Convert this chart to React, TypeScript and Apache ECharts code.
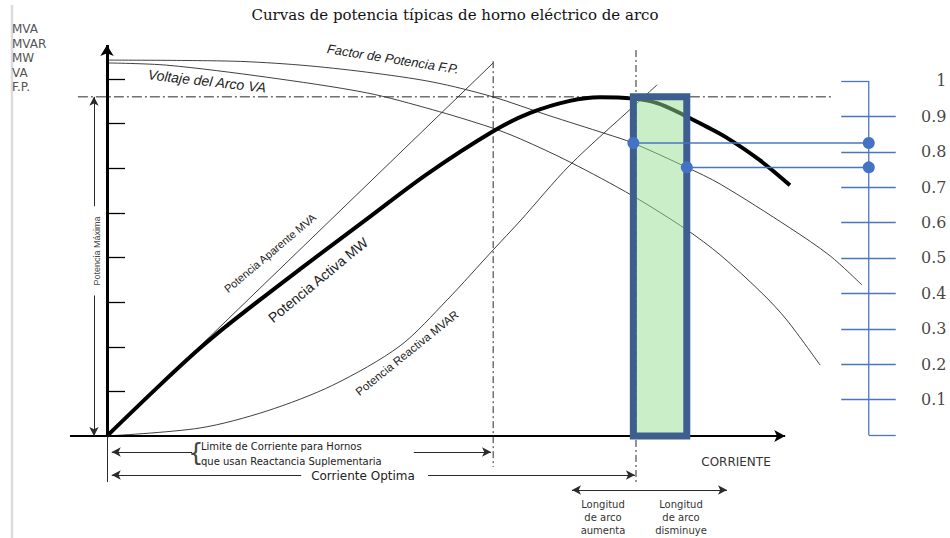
import React, { useEffect, useRef } from "react";
import * as echarts from "echarts";

// ---- values
// current: % of the optimum current; power: y-axis tick units; F.P.: per unit (right scale)
const powerTicks = [1, 2, 3, 4, 5, 6, 7, 8];
const pfTicks = [0.1, 0.2, 0.3, 0.4, 0.5, 0.6, 0.7, 0.8, 0.9];
const pfLabelValues = [0.1, 0.2, 0.3, 0.4, 0.5, 0.6, 0.7, 0.8, 0.9, 1];
const pfLabelTexts = ["0.1", "0.2", "0.3", "0.4", "0.5", "0.6", "0.7", "0.8", "0.9", "1"];

const mwCurrent = [0, 10.0, 17.6, 23.8, 36.5, 49.1, 60.5, 73.0, 80.0, 87.5, 93.2, 99.4, 104.0, 108.9, 113.0, 117.2, 123.4, 129.1];
const mwPower = [0, 1.14, 1.97, 2.58, 3.74, 4.86, 5.87, 6.83, 7.24, 7.51, 7.59, 7.56, 7.46, 7.2, 6.95, 6.68, 6.18, 5.62];

const mvaCurrent = [0, 73.0];
const mvaPower = [0, 8.36];

const mvarCurrent = [0, 17.6, 30.2, 42.7, 55.4, 64.3, 73.0, 78.1, 87.5, 100.2, 104.0];
const mvarPower = [0, 0.18, 0.56, 1.14, 2.02, 3.05, 4.17, 4.82, 6.07, 7.46, 7.87];

const vaCurrent = [0, 11.3, 30.2, 49.1, 61.6, 72.4, 78.1, 87.5, 99.4, 109.6, 115.9, 124.0, 128.5, 134.8];
const vaValue = [8.36, 8.31, 8.04, 7.69, 7.31, 6.92, 6.66, 6.14, 5.38, 4.62, 4.06, 3.18, 2.6, 1.59];

const fpCurrent = [0, 23.8, 36.5, 49.1, 61.6, 73.0, 83.2, 94.5, 99.4, 109.6, 115.9, 129.1, 136.7, 142.7];
const fpValue = [1.059, 1.056, 1.045, 1.025, 0.997, 0.955, 0.904, 0.85, 0.825, 0.756, 0.709, 0.585, 0.506, 0.424];

const maxPower = 7.6;
const limitCurrent = 73;
const optimalCurrent = 100;
const bandCurrent = [99.5, 109.6];
const bandPF = [0.825, 0.756];

// ---- layout (axis extents chosen so the grid spans the whole canvas)
const X_MIN = -20.2268, X_MAX = 159.3573;
const Y_MIN = -2.28571, Y_MAX = 9.77031;
const PF_MIN = -0.29096, PF_MAX = 1.22881;
const scaleX = 144, scaleTickL = 138.8, scaleTickR = 149.1, scaleLabelX = 158.8;
const yAxisTop = 8.76, xAxisStart = -7, xAxisEnd = 128.2;
const maxArrowX = -2.46;
const limDimY = -0.3585, optDimY = -0.874, arcDimY = -1.21;
const BLUE = "#4a76c0";
const DARK = "#2a2a2a";

const zip = (a: number[], b: number[]) => a.map((v, i) => [v, b[i]]);

const seg = (a: number[], b: number[], sa: string, sb: string, style: any, size: any = [7, 9]) => [
  { coord: a, symbol: sa, symbolSize: size, lineStyle: style },
  { coord: b, symbol: sb, symbolSize: size },
];

const txt = (x: number, y: number, text: string, font: string, o: any = {}) => ({
  type: "text",
  x,
  y,
  rotation: ((o.rot || 0) * Math.PI) / 180,
  silent: true,
  z: 20,
  style: {
    text,
    font,
    fill: o.fill || "#222",
    align: o.align || "center",
    textAlign: o.align || "center",
    verticalAlign: o.va || "middle",
    textVerticalAlign: o.va || "middle",
    lineHeight: o.lh,
  },
});

const thin = { color: DARK, width: 1, type: "solid" };

const option: any = {
  animation: false,
  backgroundColor: "#fff",
  grid: { left: 0, right: 0, top: 0, bottom: 0, containLabel: false },
  xAxis: { type: "value", min: X_MIN, max: X_MAX, show: false },
  yAxis: [
    { type: "value", min: Y_MIN, max: Y_MAX, show: false },
    { type: "value", min: PF_MIN, max: PF_MAX, show: false },
  ],
  series: [
    // dash-dot / dashed guides
    {
      type: "line", silent: true, symbol: "none", z: 2,
      data: [[-5.5, maxPower], [137.1, maxPower]],
      lineStyle: { color: DARK, width: 1, type: [10, 3, 2, 3] },
    },
    {
      type: "line", silent: true, symbol: "none", z: 2,
      data: [[limitCurrent, 8.4], [limitCurrent, -0.695]],
      lineStyle: { color: DARK, width: 1, type: [7, 3, 2, 3] },
    },
    {
      type: "line", silent: true, symbol: "none", z: 2,
      data: [[optimalCurrent, 8.65], [optimalCurrent, -1.05]],
      lineStyle: { color: DARK, width: 1, type: [7, 3, 2, 3] },
    },
    // curves
    {
      name: "MVA", type: "line", silent: true, symbol: "none", z: 3,
      data: zip(mvaCurrent, mvaPower), lineStyle: { color: DARK, width: 0.9 },
    },
    {
      name: "MVAR", type: "line", silent: true, symbol: "none", z: 3, smooth: 0.3,
      data: zip(mvarCurrent, mvarPower), lineStyle: { color: DARK, width: 0.9 },
    },
    {
      name: "VA", type: "line", silent: true, symbol: "none", z: 3, smooth: 0.3,
      data: zip(vaCurrent, vaValue), lineStyle: { color: DARK, width: 0.9 },
    },
    {
      name: "F.P.", type: "line", silent: true, symbol: "none", z: 3, smooth: 0.3, yAxisIndex: 1,
      data: zip(fpCurrent, fpValue), lineStyle: { color: DARK, width: 0.9 },
    },
    {
      name: "MW", type: "line", silent: true, symbol: "none", z: 4, smooth: 0.35,
      data: zip(mwCurrent, mwPower), lineStyle: { color: "#000", width: 4 },
    },
    // axes, ticks and dimension arrows
    {
      type: "line", silent: true, symbol: "none", z: 5, data: [[0, 0]],
      markLine: {
        silent: true, animation: false, label: { show: false }, symbol: ["none", "none"],
        data: [
          seg([0, 0], [0, yAxisTop], "none", "arrow", { color: "#000", width: 3, type: "solid" }, [10, 11]),
          seg([xAxisStart, 0], [xAxisEnd, 0], "none", "arrow", { color: "#000", width: 2, type: "solid" }, [9, 11]),
          seg([0, 0], [0, -1.03], "none", "none", thin),
          ...powerTicks.map((v) => seg([0, v], [3.4, v], "none", "none", { color: "#000", width: 1.3, type: "solid" })),
          seg([maxArrowX, 3.15], [maxArrowX, 0], "none", "arrow", thin),
          seg([maxArrowX, 5.15], [maxArrowX, maxPower], "none", "arrow", thin),
          seg([16.1, limDimY], [0.9, limDimY], "none", "arrow", thin),
          seg([58.0, limDimY], [limitCurrent - 0.4, limDimY], "none", "arrow", thin),
          seg([36.7, optDimY], [0.9, optDimY], "none", "arrow", thin),
          seg([60.7, optDimY], [optimalCurrent - 0.2, optDimY], "none", "arrow", thin),
          seg([87.9, arcDimY], [117.2, arcDimY], "arrow", "arrow", thin),
        ],
      },
    },
    // operating band
    {
      type: "custom", silent: true, z: 10,
      data: [[bandCurrent[0], bandCurrent[1], maxPower]],
      renderItem: (params: any, api: any) => {
        const p0 = api.coord([api.value(0), 0]);
        const p1 = api.coord([api.value(1), api.value(2)]);
        return {
          type: "rect",
          shape: { x: p0[0], y: p1[1], width: p1[0] - p0[0], height: p0[1] - p1[1] },
          style: { fill: "rgba(150,222,145,0.5)", stroke: "#3d5f8f", lineWidth: 7 },
        };
      },
    },
    // right F.P. scale
    {
      type: "line", silent: true, symbol: "none", z: 6, yAxisIndex: 1,
      data: [[scaleX, 0], [scaleX, 1]], lineStyle: { color: BLUE, width: 1.3 },
      markLine: {
        silent: true, animation: false, label: { show: false }, symbol: ["none", "none"],
        data: [
          ...pfTicks.map((v) => seg([scaleTickL, v], [scaleTickR, v], "none", "none", { color: BLUE, width: 1.3, type: "solid" })),
          seg([scaleTickL, 1], [scaleX, 1], "none", "none", { color: BLUE, width: 1.3, type: "solid" }),
          seg([scaleX, 0], [scaleTickR, 0], "none", "none", { color: BLUE, width: 1.3, type: "solid" }),
        ],
      },
    },
    {
      type: "scatter", silent: true, yAxisIndex: 1, z: 6, symbolSize: 1,
      itemStyle: { color: "rgba(0,0,0,0)" },
      data: pfLabelValues.map((v) => [scaleLabelX, v]),
      label: {
        show: true, position: "left", distance: 0,
        formatter: (p: any) => pfLabelTexts[p.dataIndex],
        fontFamily: "DejaVu Serif", fontSize: 16, color: "#111",
      },
    },
    ...bandCurrent.map((x, i) => ({
      type: "line", silent: true, yAxisIndex: 1, z: 12,
      symbol: "circle", symbolSize: 12, showSymbol: true,
      itemStyle: { color: "#4472c4" },
      lineStyle: { color: BLUE, width: 1.5 },
      data: [[x, bandPF[i]], [scaleX, bandPF[i]]],
    })),
  ],
  graphic: [
    { type: "line", silent: true, shape: { x1: 12, y1: 5, x2: 12, y2: 538 }, style: { stroke: "#dcdcdc", lineWidth: 2.5 } },
    txt(455, 15, "Curvas de potencia típicas de horno eléctrico de arco", '15px "DejaVu Serif"', { fill: "#111" }),
    txt(12, 22, "MVA\nMVAR\nMW\nVA\nF.P.", '12px "DejaVu Sans"', { fill: "#555", align: "left", va: "top", lh: 14.5 }),
    txt(393, 59, "Factor de Potencia F.P.", 'italic 13px "Liberation Sans"', { rot: -9 }),
    txt(207, 81, "Voltaje del Arco VA", 'italic 14px "Liberation Sans"', { rot: -6.5 }),
    txt(270, 253, "Potencia Aparente MVA", '11px "Liberation Sans"', { rot: 40 }),
    txt(318, 280, "Potencia Activa MW", '14px "Liberation Sans"', { rot: 39.5 }),
    txt(407, 353, "Potencia Reactiva MVAR", '11.5px "Liberation Sans"', { rot: 38.7 }),
    txt(97, 251, "Potencia Máxima", '9px "Liberation Sans"', { rot: 90, fill: "#444" }),
    txt(196, 453, "{", '24px "DejaVu Sans"', { fill: "#444" }),
    txt(201, 446, "Limite de Corriente para Hornos", '10px "DejaVu Sans"', { align: "left" }),
    txt(201, 461, "que usan Reactancia Suplementaria", '10px "DejaVu Sans"', { align: "left" }),
    txt(363, 476, "Corriente Optima", '12px "DejaVu Sans"'),
    txt(736, 462, "CORRIENTE", '12px "DejaVu Sans"', { fill: "#333" }),
    txt(603, 498, "Longitud\nde arco\naumenta", '10px "DejaVu Sans"', { fill: "#333", va: "top", lh: 13 }),
    txt(681, 498, "Longitud\nde arco\ndisminuye", '10px "DejaVu Sans"', { fill: "#333", va: "top", lh: 13 }),
  ],
};

export default function App() {
  const ref = useRef<HTMLDivElement>(null);
  useEffect(() => {
    const chart = echarts.init(ref.current!, null, { renderer: "svg" });
    chart.setOption(option);
    return () => chart.dispose();
  }, []);
  return (
    <div
      ref={ref}
      style={{ position: "fixed", left: 0, top: 0, width: 950, height: 538, background: "#fff" }}
    />
  );
}
